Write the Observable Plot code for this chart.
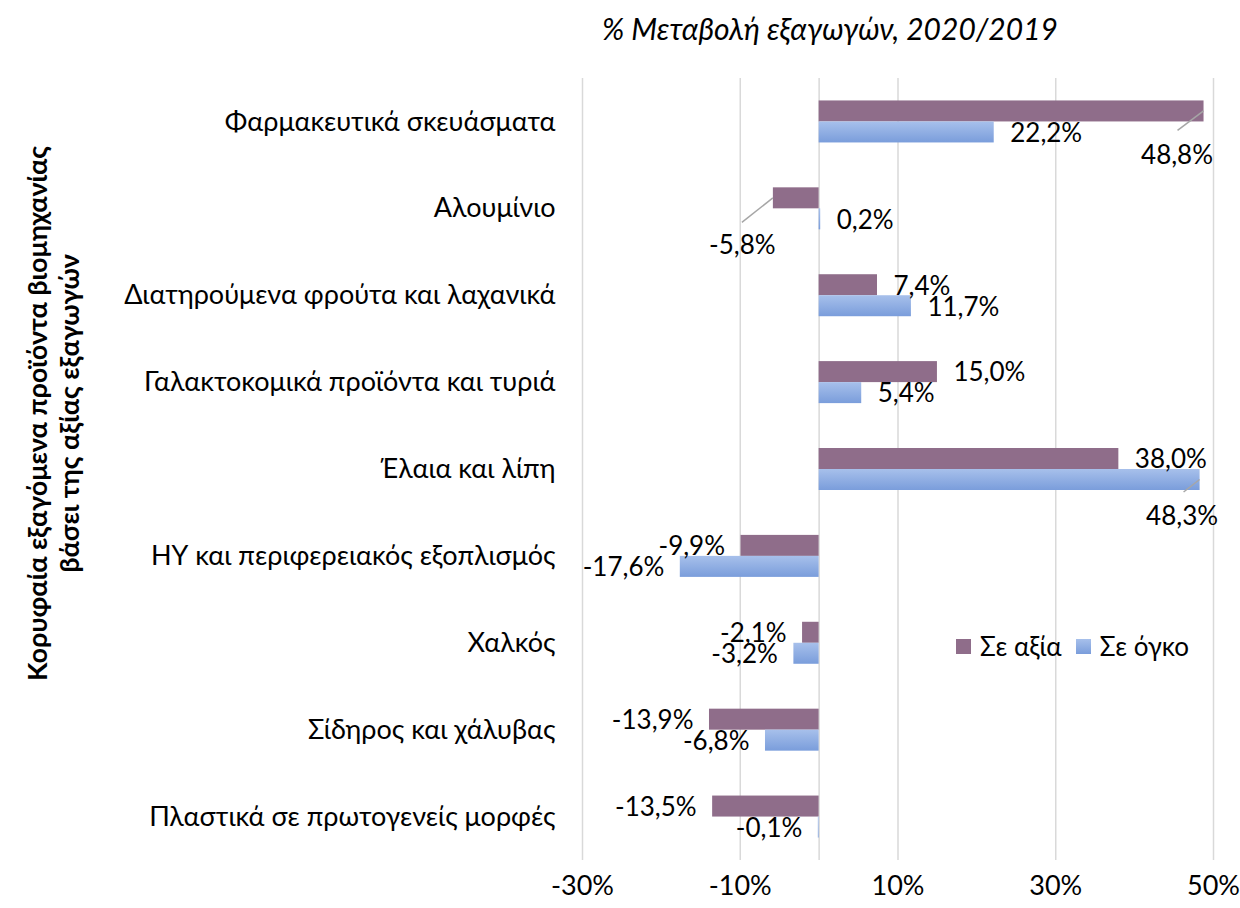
<!DOCTYPE html>
<html>
<head>
<meta charset="utf-8">
<script src="https://cdn.jsdelivr.net/npm/d3@7"></script>
<script src="https://cdn.jsdelivr.net/npm/@observablehq/plot@0.6"></script>
<style>
  body { margin: 0; background: #fff; font-family: Lato, "Noto Sans", sans-serif; }
  #wrap { position: relative; width: 1240px; height: 908px; overflow: hidden; }
  #title { position: absolute; left: 430px; width: 800px; top: 8px; text-align: center;
           font-style: italic; font-size: 30px; color: #000; line-height: 40px; }
  #chart { position: absolute; left: 0; top: 0; }
  #legend { position: absolute; left: 956px; top: 630px; height: 32px; display: flex; align-items: center;
            font-size: 26px; color: #000; white-space: nowrap; }
  #legend .sw { display: inline-block; width: 15px; height: 15px; margin-right: 9px; }
  #legend .item { display: flex; align-items: center; margin-right: 14px; }
</style>
</head>
<body>
<div id="wrap">
  <div id="chart"></div>
  <div id="title"></div>
  <div id="legend"></div>
</div>
<script>
// ---- data ----
const categories = [
  "Φαρμακευτικά σκευάσματα",
  "Αλουμίνιο",
  "Διατηρούμενα φρούτα και λαχανικά",
  "Γαλακτοκομικά προϊόντα και τυριά",
  "Έλαια και λίπη",
  "ΗΥ και περιφερειακός εξοπλισμός",
  "Χαλκός",
  "Σίδηρος και χάλυβας",
  "Πλαστικά σε πρωτογενείς μορφές"
];
const valueChange  = [48.8, -5.8, 7.4, 15.0, 38.0, -9.9, -2.1, -13.9, -13.5];
const volumeChange = [22.2,  0.2, 11.7, 5.4, 48.3, -17.6, -3.2, -6.8, -0.1];
const seriesNames = ["Σε αξία", "Σε όγκο"];
const xTicks = [-30, -10, 10, 30, 50];
const gridValues = [-30, -10, 0, 10, 30, 50];
const titleText = "% Μεταβολή εξαγωγών, 2020/2019";
const yTitleLines = ["Κορυφαία εξαγόμενα προϊόντα βιομηχανίας", "βάσει της αξίας εξαγωγών"];

// ---- layout / style ----
const W = 1240, H = 908;
const mTop = 78, mBottom = 48, mLeft = 582, mRight = 27;
const purple = "#8F6D8A";
const blueTop = "#A7C0EB", blueBottom = "#7A9DDB";
const bandH = (H - mTop - mBottom) / categories.length;
const barH = 21;
const half = bandH / 2;
const labelSize = 26, catSize = 27, tickSize = 27, yTitleSize = 27;
const font = "Lato, 'Noto Sans', sans-serif";

// Manually placed labels (Excel-style moved labels with leader lines), in pixels
const moved = [
  {category: categories[0], series: seriesNames[0], dx: -27, dy: 44.5, lx: 1, ly: -25},
  {category: categories[1], series: seriesNames[0], dx: -31, dy: 47.5, lx: 0, ly: -23},
  {category: categories[4], series: seriesNames[1], dx: -18, dy: 36.5, lx: 2, ly: -24}
];

document.getElementById("title").textContent = titleText;

const data = categories.flatMap((c, i) => [
  {category: c, series: seriesNames[0], value: valueChange[i]},
  {category: c, series: seriesNames[1], value: volumeChange[i]}
]);
const fmt = d => d.value.toFixed(1).replace(".", ",") + "%";
const isMoved = d => moved.some(m => m.category === d.category && m.series === d.series);

const labelMarks = [];
seriesNames.forEach((s, si) => {
  const barCenterDy = si === 0 ? -barH / 2 : barH / 2;
  const base = data.filter(d => d.series === s && !isMoved(d));
  labelMarks.push(Plot.text(base.filter(d => d.value >= 0), {
    x: "value", y: "category", text: fmt, dx: 16, dy: barCenterDy + 1,
    textAnchor: "start", fontSize: labelSize, fill: "#000"
  }));
  labelMarks.push(Plot.text(base.filter(d => d.value < 0), {
    x: "value", y: "category", text: fmt, dx: -16, dy: barCenterDy + 1,
    textAnchor: "end", fontSize: labelSize, fill: "#000"
  }));
});
moved.forEach(m => {
  const si = seriesNames.indexOf(m.series);
  const barCenterDy = si === 0 ? -barH / 2 : barH / 2;
  labelMarks.push(Plot.text(data.filter(d => d.category === m.category && d.series === m.series), {
    x: "value", y: "category", text: fmt, dx: m.dx, dy: barCenterDy + m.dy,
    textAnchor: "middle", fontSize: labelSize, fill: "#000"
  }));
});

const plot = Plot.plot({
  width: W, height: H,
  marginTop: mTop, marginBottom: mBottom, marginLeft: mLeft, marginRight: mRight,
  style: {fontFamily: font, fontSize: labelSize + "px", color: "#000", background: "#fff"},
  x: {domain: [-30, 50], ticks: xTicks, tickFormat: d => d + "%", label: null},
  y: {domain: categories, padding: 0, round: false, label: null},
  marks: [
    Plot.ruleX(gridValues, {stroke: "#d9d9d9", strokeWidth: 1.5}),
    Plot.barX(data.filter(d => d.series === seriesNames[0]), {
      x: "value", y: "category", fill: purple,
      insetTop: half - barH, insetBottom: half
    }),
    Plot.barX(data.filter(d => d.series === seriesNames[1]), {
      x: "value", y: "category", fill: "url(#blueGrad)",
      insetTop: half, insetBottom: half - barH
    }),
    ...labelMarks,
    Plot.axisX({ticks: xTicks, tickFormat: d => d + "%", tickSize: 0, tickPadding: 15, fontSize: tickSize, label: null}),
    Plot.axisY({tickSize: 0, tickPadding: 27, fontSize: catSize, label: null}),
    Plot.text([yTitleLines.join("\n")], {
      frameAnchor: "left", dx: -530, dy: -56, rotate: -90,
      fontWeight: "bold", fontSize: yTitleSize, lineHeight: 1.2, textAnchor: "middle", fill: "#000"
    })
  ]
});

// gradient for volume bars
const svg = d3.select(plot);
const defs = svg.insert("defs", ":first-child");
const g = defs.append("linearGradient").attr("id", "blueGrad")
  .attr("x1", 0).attr("y1", 0).attr("x2", 0).attr("y2", 1);
g.append("stop").attr("offset", "0%").attr("stop-color", blueTop);
g.append("stop").attr("offset", "100%").attr("stop-color", blueBottom);

// leader lines for moved labels, positioned through the plot's scales
const xs = plot.scale("x"), ys = plot.scale("y");
moved.forEach(m => {
  const i = categories.indexOf(m.category);
  const si = seriesNames.indexOf(m.series);
  const v = (si === 0 ? valueChange : volumeChange)[i];
  const bx = xs.apply(v);
  const by = ys.apply(m.category) + ys.bandwidth / 2 + (si === 0 ? -barH / 2 : barH / 2);
  svg.append("line")
    .attr("x1", bx + m.dx + m.lx).attr("y1", by + m.dy + m.ly)
    .attr("x2", bx).attr("y2", by)
    .attr("stroke", "#a6a6a6").attr("stroke-width", 1.5);
});

document.getElementById("chart").appendChild(plot);

// legend
const legend = document.getElementById("legend");
const legendColors = [purple, `linear-gradient(${blueTop}, ${blueBottom})`];
seriesNames.forEach((s, i) => {
  const item = document.createElement("span");
  item.className = "item";
  const sw = document.createElement("span");
  sw.className = "sw";
  sw.style.background = legendColors[i];
  item.appendChild(sw);
  item.appendChild(document.createTextNode(s));
  legend.appendChild(item);
});
</script>
</body>
</html>
